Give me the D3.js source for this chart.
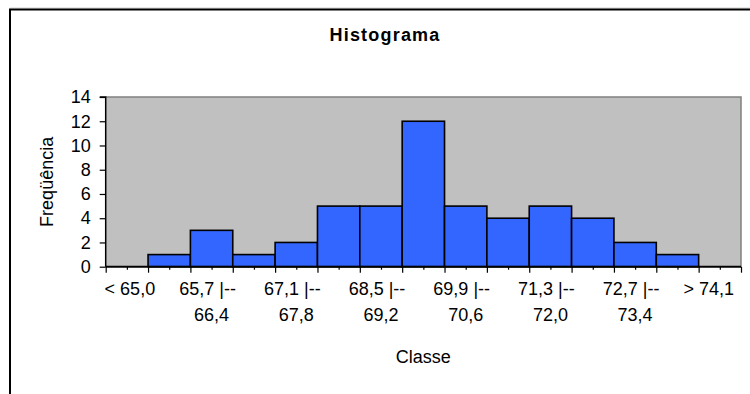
<!DOCTYPE html>
<html>
<head>
<meta charset="utf-8">
<script src="https://cdn.jsdelivr.net/npm/d3@7"></script>
<style>
  html, body { margin: 0; padding: 0; background: #fff; }
  svg text { font-family: Arial, "Liberation Sans", sans-serif; fill: #000; }
</style>
</head>
<body>
<svg id="chart" width="750" height="394"></svg>
<script>
// ---- data ----
const categories = [
  "< 65,0", "65,0 |-- 65,7", "65,7 |-- 66,4", "66,4 |-- 67,1", "67,1 |-- 67,8",
  "67,8 |-- 68,5", "68,5 |-- 69,2", "69,2 |-- 69,9", "69,9 |-- 70,6", "70,6 |-- 71,3",
  "71,3 |-- 72,0", "72,0 |-- 72,7", "72,7 |-- 73,4", "73,4 |-- 74,1", "> 74,1"
];
const frequencies = [0, 1, 3, 1, 2, 5, 5, 12, 5, 4, 5, 4, 2, 1, 0];
const yTicks = [0, 2, 4, 6, 8, 10, 12, 14];
const chartTitle = "Histograma";
const xTitle = "Classe";
const yTitle = "Freqüência";

// ---- layout ----
const plot = { left: 105.7, right: 741, top: 97, bottom: 266.7 };
const FS = 18;
const labelRightLimit = 734;
const svg = d3.select("#chart");

// outer chart border
svg.append("line").attr("x1", 10).attr("x2", 760).attr("y1", 8).attr("y2", 8)
  .attr("stroke", "#d0d0d0").attr("stroke-width", 1);
svg.append("rect").attr("x", 10).attr("y", 9.5).attr("width", 800).attr("height", 500)
  .attr("fill", "none").attr("stroke", "#000").attr("stroke-width", 2);

const x = d3.scaleBand().domain(categories).range([plot.left, plot.right]).paddingInner(0).paddingOuter(0);
const xi = d3.scaleLinear().domain([0, categories.length]).range([plot.left, plot.right]);
const y = d3.scaleLinear().domain([0, 14]).range([plot.bottom, plot.top]);

// plot area background
svg.append("rect")
  .attr("x", plot.left).attr("y", plot.top)
  .attr("width", plot.right - plot.left).attr("height", plot.bottom - plot.top)
  .attr("fill", "#c0c0c0");
// top and right plot borders (gray)
svg.append("path")
  .attr("d", `M${plot.left},${plot.top}H${plot.right}V${plot.bottom}`)
  .attr("fill", "none").attr("stroke", "#808080").attr("stroke-width", 1.5);

// bars
const barData = categories.map((c, i) => ({ c, v: frequencies[i] })).filter(d => d.v > 0);
svg.append("g").selectAll("rect").data(barData).join("rect")
  .attr("x", d => x(d.c))
  .attr("y", d => y(d.v))
  .attr("width", x.bandwidth())
  .attr("height", d => y(0) - y(d.v))
  .attr("fill", "#3366ff")
  .attr("stroke", "#000")
  .attr("stroke-width", 1.6);

// y axis
const yAxis = svg.append("g")
  .attr("transform", `translate(${plot.left},0)`)
  .call(d3.axisLeft(y).tickValues(yTicks).tickSize(6).tickPadding(9).tickFormat(d3.format("d")));
yAxis.attr("font-family", null).attr("font-size", null);
yAxis.select(".domain").attr("stroke", "#000").attr("stroke-width", 1.5).attr("d", `M-6,${plot.top}H0V${plot.bottom}`);
yAxis.selectAll(".tick line").attr("stroke", "#000").attr("stroke-width", 1.2);
yAxis.selectAll("text").attr("font-size", FS);

// x axis major ticks at category boundaries
const xAxis = svg.append("g")
  .attr("transform", `translate(0,${plot.bottom})`)
  .call(d3.axisBottom(xi).tickValues(d3.range(categories.length + 1)).tickSize(6).tickFormat(""));
xAxis.select(".domain").attr("stroke", "#000").attr("stroke-width", 2).attr("d", `M${plot.left},0H${plot.right}`);
xAxis.selectAll(".tick line").attr("stroke", "#000").attr("stroke-width", 1.2);
// minor ticks at category centres
const xMinor = svg.append("g")
  .attr("transform", `translate(0,${plot.bottom})`)
  .call(d3.axisBottom(xi).tickValues(d3.range(categories.length).map(i => i + 0.5)).tickSize(3).tickFormat(""));
xMinor.select(".domain").remove();
xMinor.selectAll(".tick line").attr("stroke", "#000").attr("stroke-width", 1.2);

// category labels (every other category, two lines)
const labelG = svg.append("g");
categories.forEach((c, i) => {
  if (i % 2 !== 0) return;
  const cx = x(c) + x.bandwidth() / 2;
  const parts = c.split("|--");
  const t = labelG.append("text")
    .attr("x", cx).attr("y", 295)
    .attr("text-anchor", "middle").attr("font-size", FS);
  if (parts.length === 2) {
    t.append("tspan").attr("x", cx - 4).attr("y", 295).text(parts[0].trim() + " |--");
    t.append("tspan").attr("x", cx).attr("y", 320.7).text(parts[1].trim());
  } else {
    t.text(c);
    // keep the label inside the chart (Excel style)
    const bb = t.node().getBBox();
    if (bb.x + bb.width > labelRightLimit) {
      t.attr("x", cx - (bb.x + bb.width - labelRightLimit));
    } else if (i === 0) {
      t.attr("x", cx + 3);
    }
  }
});

// titles
svg.append("text").attr("x", 385).attr("y", 40.7)
  .attr("text-anchor", "middle").attr("font-size", FS).attr("font-weight", "bold")
  .attr("letter-spacing", 1.2).text(chartTitle);
svg.append("text").attr("x", (plot.left + plot.right) / 2).attr("y", 363.3)
  .attr("text-anchor", "middle").attr("font-size", FS).text(xTitle);
svg.append("text")
  .attr("transform", `translate(53,${(plot.top + plot.bottom) / 2}) rotate(-90)`)
  .attr("text-anchor", "middle").attr("font-size", FS).text(yTitle);
</script>
</body>
</html>
